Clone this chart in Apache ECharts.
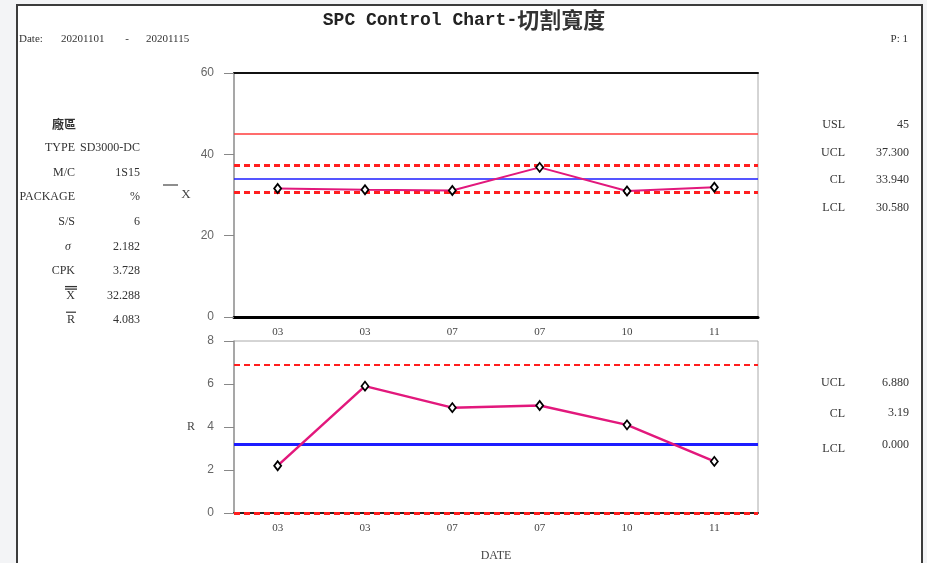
<!DOCTYPE html>
<html><head><meta charset="utf-8">
<script src="https://cdn.jsdelivr.net/npm/echarts@6/dist/echarts.min.js"></script>
<style>
html,body{margin:0;padding:0;background:#f3f4f6;}
body{width:927px;height:563px;overflow:hidden;position:relative;}
#frame{position:absolute;left:16px;top:4px;width:903px;height:620px;background:#fff;border:2px solid #3c3c3c;}
#chart{position:absolute;left:0;top:0;width:927px;height:563px;}
</style></head>
<body><div id="frame"></div><div id="chart"></div>
<script>
// ---- data ----
const dates = ['03', '03', '07', '07', '10', '11'];
const xbarValues = [31.6, 31.3, 31.1, 36.8, 31.0, 31.9];
const rangeValues = [2.2, 5.9, 4.9, 5.0, 4.1, 2.4];
const xbarTicks = [0, 20, 40, 60];
const rangeTicks = [0, 2, 4, 6, 8];
const xbarLimitNames = ['USL', 'UCL', 'CL', 'LCL'];
const xbarLimitValues = [45, 37.3, 33.94, 30.58];
const xbarLimitLabels = ['45', '37.300', '33.940', '30.580'];
const rangeLimitNames = ['UCL', 'CL', 'LCL'];
const rangeLimitValues = [6.88, 3.19, 0];
const rangeLimitLabels = ['6.880', '3.19', '0.000'];
const statNames = ['TYPE', 'M/C', 'PACKAGE', 'S/S', 'σ', 'CPK', 'X', 'R'];
const statValues = ['SD3000-DC', '1S15', '%', '6', '2.182', '3.728', '32.288', '4.083'];
const titleLatin = 'SPC Control Chart-';
const titleCJK = '切割寬度';
const plantLabel = '廠區';
const dateFrom = '20201101';
const dateTo = '20201115';
const pageLabel = 'P: 1';

// ---- styles ----
const RED = '#ff1f1f', BLUE = '#1c1cff', PINK = '#e2187c';
function limitStyle(name, chart) {
  if (name === 'USL') return { color: '#ff3b3b', width: 1.5, type: 'solid' };
  if (name === 'CL') return { color: BLUE, width: chart === 'x' ? 1.5 : 3, type: 'solid' };
  return { color: RED, width: chart === 'x' ? 3 : (name === 'LCL' ? 3 : 2), type: [6, 4] };
}
const serif = '"Liberation Serif", "Noto Sans CJK TC", serif';
const txt = (x, y, text, align, font, fill) => ({
  type: 'text', x: x, y: y, silent: true, z: 10,
  style: { text: text, align: align, verticalAlign: 'middle', textAlign: align, textVerticalAlign: 'middle',
           font: font || ('12px ' + serif), fill: fill || '#333' }
});
const hline = (x1, x2, y, w, c) => ({
  type: 'line', silent: true, z: 10,
  shape: { x1: x1, y1: y, x2: x2, y2: y }, style: { stroke: c || '#333', lineWidth: w || 1 }
});

const graphics = [];
// title
graphics.push({
  type: 'text', x: 464, y: 20, silent: true, z: 10,
  style: {
    text: '{a|' + titleLatin + '}{b|' + titleCJK + '}', align: 'center', verticalAlign: 'middle',
    textAlign: 'center', textVerticalAlign: 'middle',
    rich: {
      a: { font: 'bold 18px "Liberation Mono", monospace', fill: '#222' },
      b: { font: 'bold 22px "Noto Sans CJK TC", sans-serif', fill: '#333' }
    }
  }
});
graphics.push(txt(19, 39, 'Date:', 'left', '11px ' + serif, '#333'));
graphics.push(txt(61, 39, dateFrom, 'left', '11px ' + serif, '#333'));
graphics.push(txt(127, 39, '-', 'center', '11px ' + serif, '#333'));
graphics.push(txt(146, 39, dateTo, 'left', '11px ' + serif, '#333'));
graphics.push(txt(908, 39, pageLabel, 'right', '11px ' + serif, '#333'));
// left stats panel
graphics.push(txt(76, 124, plantLabel, 'right', 'bold 12px "Noto Sans CJK TC", sans-serif', '#333'));
statNames.forEach((n, i) => {
  const y = 148 + i * 24.6;
  if (n === 'σ') graphics.push(txt(71, y, n, 'right', 'italic 12px ' + serif, '#333'));
  else graphics.push(txt(75, y, n, 'right', '12px ' + serif, '#333'));
  graphics.push(txt(140, y, statValues[i], 'right', '12px ' + serif, '#333'));
});
// overlines for X double-bar and R bar
const yX = 148 + 6 * 24.6, yR = 148 + 7 * 24.6;
graphics.push(hline(65, 77, yX - 9, 1.3));
graphics.push(hline(65, 77, yX - 6.5, 1.3));
graphics.push(hline(66, 76, yR - 8, 1.2));
// axis name labels
graphics.push(hline(163, 178, 185, 1.2, '#444'));
graphics.push(txt(186, 195, 'X', 'center', '13px ' + serif, '#444'));
graphics.push(txt(191, 427, 'R', 'center', '12px ' + serif, '#444'));
// right panels
const xbarPanelY = [125, 152.5, 180, 208];
xbarLimitNames.forEach((n, i) => {
  graphics.push(txt(845, xbarPanelY[i], n, 'right', '12px ' + serif, '#333'));
  graphics.push(txt(909, xbarPanelY[i], xbarLimitLabels[i], 'right', '12px ' + serif, '#333'));
});
const rangePanelNameY = [383, 414, 449];
const rangePanelValY = [383, 413, 445];
rangeLimitNames.forEach((n, i) => {
  graphics.push(txt(845, rangePanelNameY[i], n, 'right', '12px ' + serif, '#333'));
  graphics.push(txt(909, rangePanelValY[i], rangeLimitLabels[i], 'right', '12px ' + serif, '#333'));
});

const yLabel = { color: '#666', fontSize: 12, fontFamily: '"Liberation Sans", sans-serif', margin: 20 };
const xLabel = { color: '#444', fontSize: 11, fontFamily: serif, margin: 10 };

const chart = echarts.init(document.getElementById('chart'), null, { renderer: 'canvas' });
chart.setOption({
  animation: false,
  backgroundColor: 'transparent',
  graphic: graphics,
  grid: [
    { left: 234, top: 73, width: 524, height: 244, show: true, borderColor: '#aaa', borderWidth: 1, backgroundColor: 'transparent' },
    { left: 234, top: 341, width: 524, height: 172, show: true, borderColor: '#aaa', borderWidth: 1, backgroundColor: 'transparent' }
  ],
  xAxis: [
    { type: 'category', gridIndex: 0, data: dates, position: 'bottom',
      axisLine: { lineStyle: { color: '#000', width: 3 } },
      axisTick: { alignWithLabel: true, length: 3, lineStyle: { color: '#000' } },
      axisLabel: xLabel },
    { type: 'category', gridIndex: 0, data: dates, position: 'top',
      axisLine: { lineStyle: { color: '#111', width: 2 } },
      axisTick: { show: false }, axisLabel: { show: false } },
    { type: 'category', gridIndex: 1, data: dates, position: 'bottom',
      axisLine: { lineStyle: { color: '#222', width: 2 } },
      axisTick: { show: false },
      axisLabel: xLabel,
      name: 'DATE', nameLocation: 'middle', nameGap: 37,
      nameTextStyle: { color: '#444', fontSize: 12, fontFamily: serif } }
  ],
  yAxis: [
    { type: 'value', gridIndex: 0, min: xbarTicks[0], max: xbarTicks[xbarTicks.length - 1],
      interval: xbarTicks[1] - xbarTicks[0],
      axisLine: { show: true, lineStyle: { color: '#999', width: 1.5 } },
      axisTick: { show: true, length: 10, lineStyle: { color: '#888' } },
      splitLine: { show: false }, axisLabel: yLabel },
    { type: 'value', gridIndex: 1, min: rangeTicks[0], max: rangeTicks[rangeTicks.length - 1],
      interval: rangeTicks[1] - rangeTicks[0],
      axisLine: { show: true, lineStyle: { color: '#999', width: 1.5 } },
      axisTick: { show: true, length: 10, lineStyle: { color: '#888' } },
      splitLine: { show: false }, axisLabel: yLabel }
  ],
  series: [
    { type: 'line', name: 'Xbar', xAxisIndex: 0, yAxisIndex: 0, data: xbarValues, z: 5,
      lineStyle: { color: PINK, width: 2 },
      symbol: 'diamond', symbolSize: [7, 9],
      itemStyle: { color: '#fff', borderColor: '#000', borderWidth: 1.8 },
      markLine: {
        silent: true, symbol: ['none', 'none'], label: { show: false }, z: 3,
        data: xbarLimitNames.map((n, i) => ({ yAxis: xbarLimitValues[i], lineStyle: limitStyle(n, 'x') }))
      } },
    { type: 'line', name: 'R', xAxisIndex: 2, yAxisIndex: 1, data: rangeValues, z: 5,
      lineStyle: { color: PINK, width: 2.5 },
      symbol: 'diamond', symbolSize: [7, 9],
      itemStyle: { color: '#fff', borderColor: '#000', borderWidth: 1.8 },
      markLine: {
        silent: true, symbol: ['none', 'none'], label: { show: false }, z: 3,
        data: rangeLimitNames.map((n, i) => ({ yAxis: rangeLimitValues[i], lineStyle: limitStyle(n, 'r') }))
      } }
  ]
});
</script>
</body></html>
